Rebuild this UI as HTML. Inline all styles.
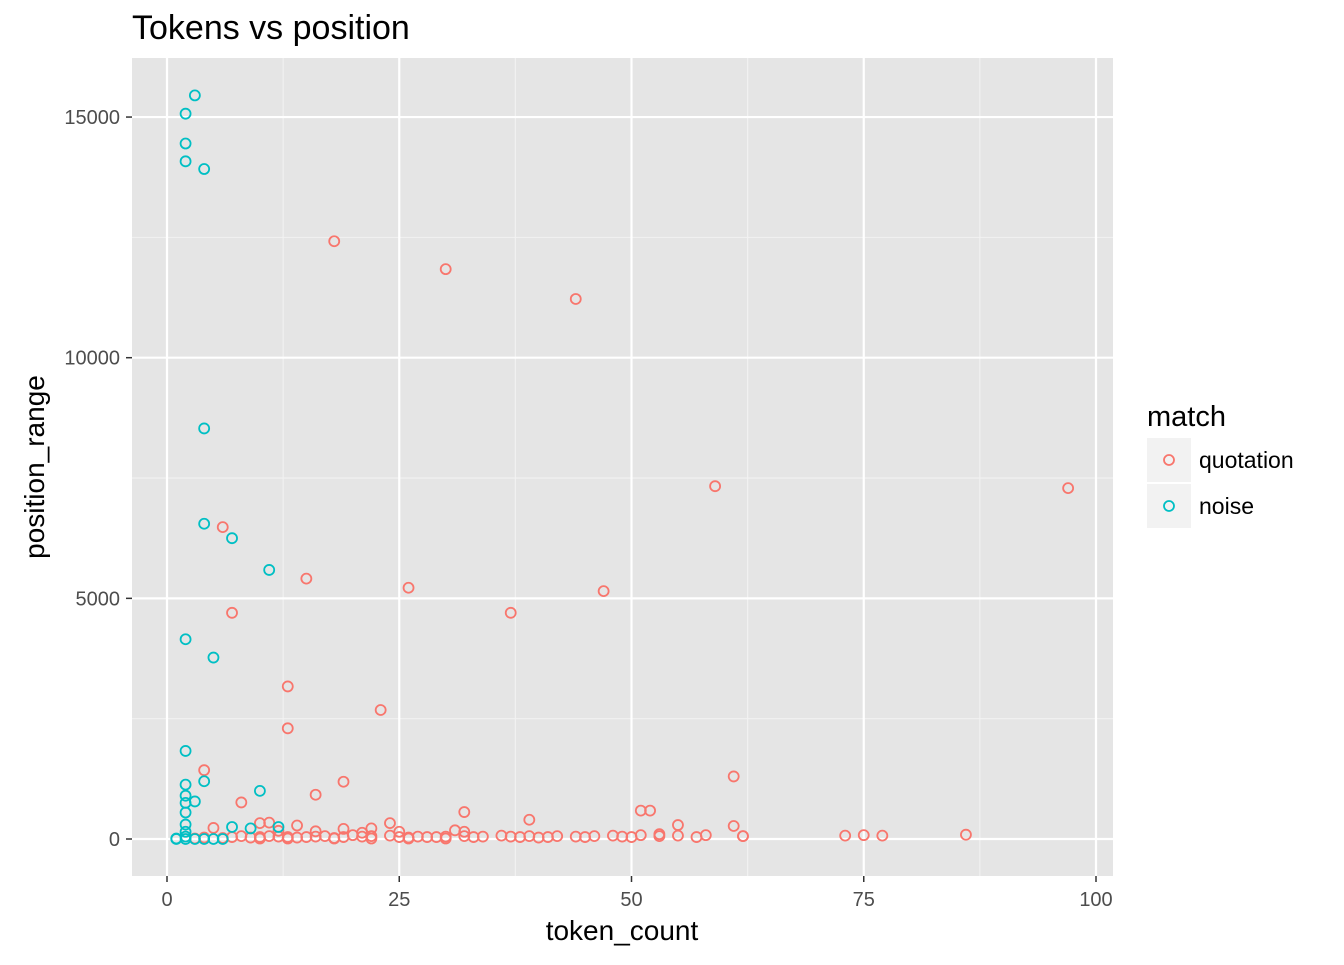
<!DOCTYPE html>
<html><head><meta charset="utf-8"><style>
body{margin:0;background:#fff;font-family:"Liberation Sans",sans-serif}
</style></head><body>
<svg id="c" width="1344" height="960" xmlns="http://www.w3.org/2000/svg" style="font-family:'Liberation Sans',sans-serif">
<text x="132" y="39" font-size="34" fill="#000">Tokens vs position</text>
<rect x="132" y="58" width="981" height="818" fill="#e5e5e5"/>
<g id="grid"></g>
<g id="pts"></g>
<g id="axes"></g>
<text x="622" y="940" font-size="28" text-anchor="middle">token_count</text>
<text transform="translate(44,467) rotate(-90)" font-size="28" text-anchor="middle">position_range</text>
<g>
<text x="1147" y="426" font-size="29">match</text>
<rect x="1147" y="438" width="44" height="44" fill="#f2f2f2"/>
<circle cx="1169" cy="460" r="5" fill="none" stroke="#F8766D" stroke-width="1.8"/>
<text x="1199" y="468" font-size="23">quotation</text>
<rect x="1147" y="484" width="44" height="44" fill="#f2f2f2"/>
<circle cx="1169" cy="506" r="5" fill="none" stroke="#00BFC4" stroke-width="1.8"/>
<text x="1199" y="514" font-size="23">noise</text>
</g>
</svg>
<script>
const xTicks=[0,25,50,75,100];
const yTicks=[0,5000,10000,15000];
const noiseX=[3,2,2,2,4,4,4,7,11,2,5,2,2,4,3,2,2,2,2,2,7,9,10,12,1,2,3,5,2,1,4,6];
const noiseY=[15450,15070,14450,14080,13920,8530,6550,6250,5590,4150,3770,1830,1130,1200,780,900,750,550,300,150,250,220,1000,250,0,0,0,0,50,10,0,0];
const quoteX=[18,30,44,59,97,6,15,26,47,7,37,13,23,13,4,61,19,16,8,32,51,52,39,55,61,10,11,24,14,22,19,5,25,31,32,16,12,21,
4,6,7,8,9,10,11,12,13,14,15,16,17,18,19,20,21,22,24,25,26,27,28,29,30,32,33,34,36,37,38,39,40,41,42,44,45,46,48,49,50,51,53,55,57,58,62,73,75,77,86,3,10,13,18,22,26,30,53,62];
const quoteY=[12420,11840,11220,7330,7290,6480,5410,5220,5150,4700,4700,3170,2680,2300,1430,1300,1190,920,760,560,590,590,400,290,270,330,340,330,280,220,210,230,150,180,150,160,170,130,
30,20,40,60,30,40,60,50,40,30,40,50,60,20,40,80,50,60,70,40,30,50,40,40,50,60,40,50,70,50,40,60,30,40,60,50,40,60,70,50,40,80,60,70,40,80,60,70,80,70,90,10,10,10,10,10,10,10,100,60];
const X=v=>167+v*9.29, Y=v=>839-v*0.04813;
const NS="http://www.w3.org/2000/svg";
function mk(tag,attrs,parent){const e=document.createElementNS(NS,tag);for(const k in attrs)e.setAttribute(k,attrs[k]);parent.appendChild(e);return e;}
const g=document.getElementById('grid'),ax=document.getElementById('axes'),p=document.getElementById('pts');
for(let i=0;i<xTicks.length-1;i++){const m=(xTicks[i]+xTicks[i+1])/2;const l=mk('line',{x1:X(m),x2:X(m),y1:58,y2:876,stroke:'#f2f2f2','stroke-width':1.1},g);}
for(let i=0;i<yTicks.length;i++){const m=yTicks[i]+2500;if(Y(m)>58){const l=mk('line',{x1:132,x2:1113,y1:Y(m),y2:Y(m),stroke:'#f2f2f2','stroke-width':1.1},g);}}
xTicks.forEach(t=>{const l=mk('line',{x1:X(t),x2:X(t),y1:58,y2:876,stroke:'#fff','stroke-width':2.2},g);
mk('line',{x1:X(t),x2:X(t),y1:876,y2:882,stroke:'#333','stroke-width':1.5},ax);
const tx=mk('text',{x:X(t),y:906,'font-size':20,'text-anchor':'middle',fill:'#4d4d4d'},ax);tx.textContent=t;});
yTicks.forEach(t=>{const l=mk('line',{x1:132,x2:1113,y1:Y(t),y2:Y(t),stroke:'#fff','stroke-width':2.2},g);
mk('line',{x1:126,x2:132,y1:Y(t),y2:Y(t),stroke:'#333','stroke-width':1.5},ax);
const tx=mk('text',{x:120,y:Y(t)+7,'font-size':20,'text-anchor':'end',fill:'#4d4d4d'},ax);tx.textContent=t;});
quoteX.forEach((v,i)=>{const c=mk('circle',{cx:X(v),cy:Y(quoteY[i]),r:5,fill:'none',stroke:'#F8766D','stroke-width':1.8},p);});
noiseX.forEach((v,i)=>{const c=mk('circle',{cx:X(v),cy:Y(noiseY[i]),r:5,fill:'none',stroke:'#00BFC4','stroke-width':1.8},p);});
</script>
</body></html>
